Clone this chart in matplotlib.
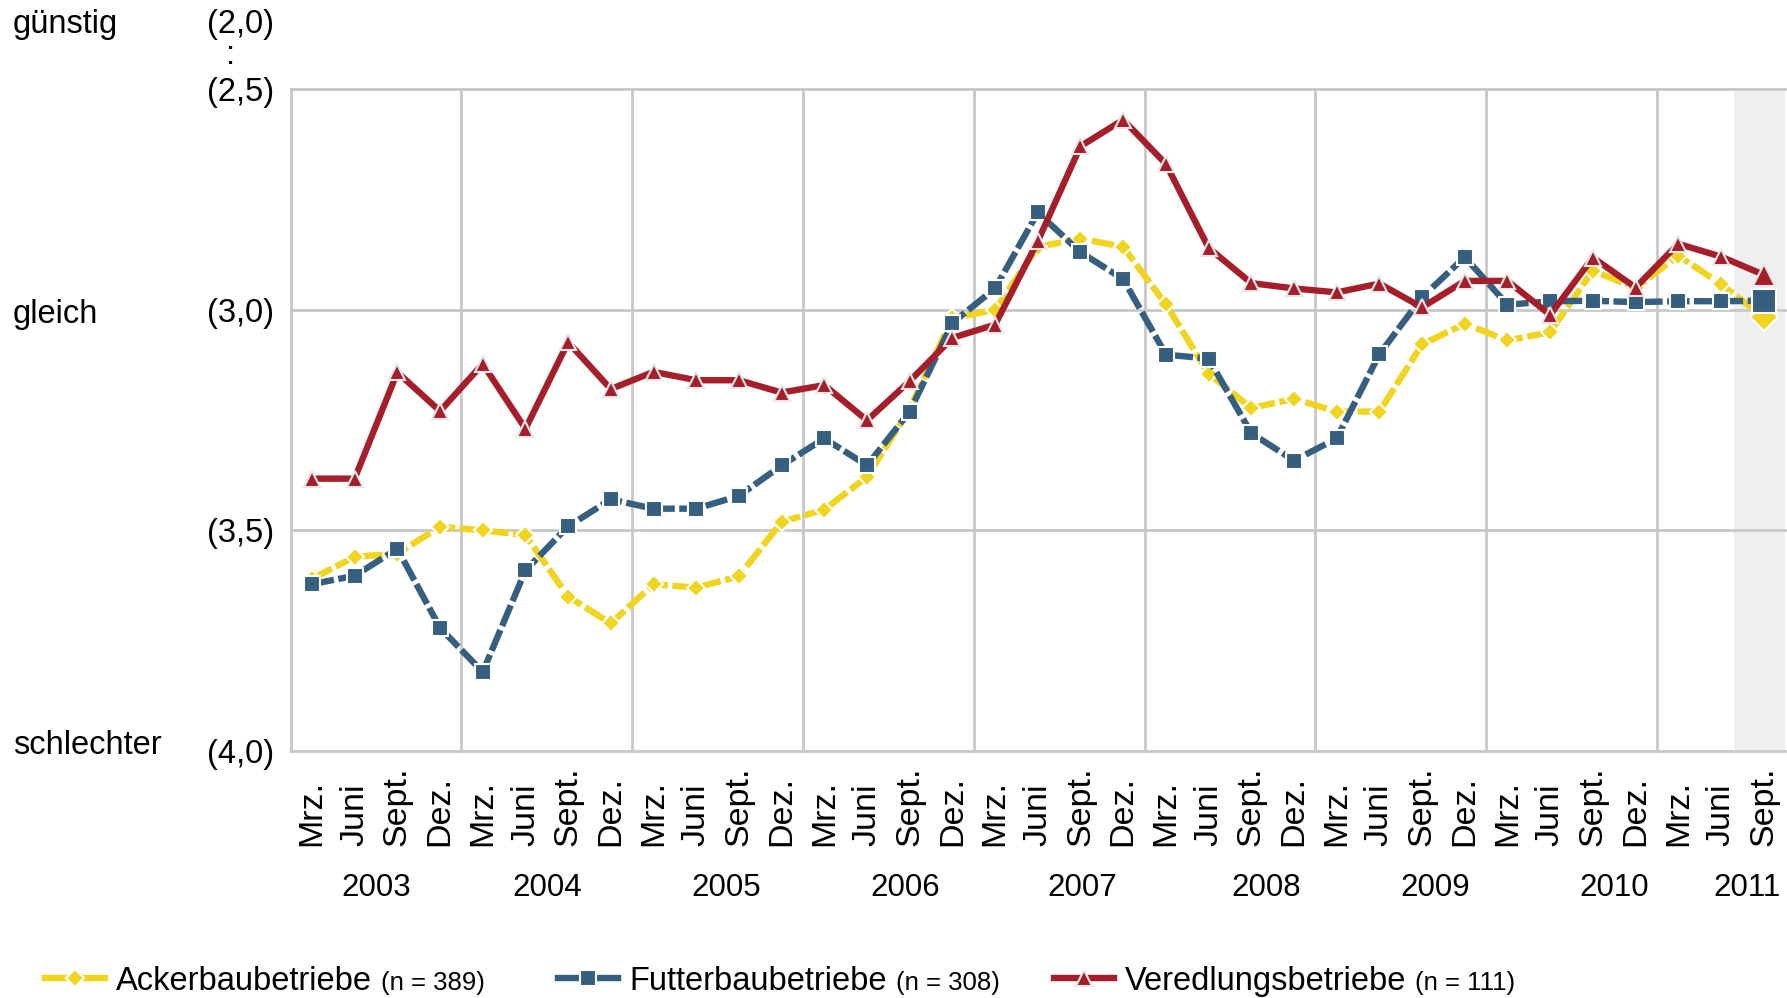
import matplotlib
matplotlib.use("Agg")
import matplotlib.pyplot as plt
from matplotlib.lines import Line2D
from matplotlib import transforms, font_manager

# quarterly survey values (index, inverted scale: 2 = better, 4 = worse)
months = ["Mrz.", "Juni", "Sept.", "Dez."] * 8 + ["Mrz.", "Juni", "Sept."]
years = ["2003", "2004", "2005", "2006", "2007", "2008", "2009", "2010", "2011"]

ackerbau = [3.61, 3.56, 3.553, 3.492, 3.50, 3.511, 3.65, 3.711, 3.622, 3.63,
            3.604, 3.481, 3.453, 3.379, 3.225, 3.02, 3.00, 2.858, 2.839, 2.858,
            2.988, 3.145, 3.223, 3.202, 3.231, 3.231, 3.079, 3.032, 3.070, 3.051,
            2.912, 2.951, 2.878, 2.942, 3.017]
futterbau = [3.622, 3.603, 3.542, 3.721, 3.821, 3.591, 3.491, 3.430, 3.451, 3.451,
             3.422, 3.353, 3.292, 3.353, 3.231, 3.030, 2.952, 2.780, 2.870, 2.931,
             3.102, 3.111, 3.280, 3.342, 3.292, 3.101, 2.972, 2.881, 2.989, 2.981,
             2.980, 2.983, 2.981, 2.981, 2.980]
veredlung = [3.383, 3.383, 3.142, 3.230, 3.123, 3.270, 3.074, 3.180, 3.141, 3.160,
             3.160, 3.188, 3.171, 3.251, 3.162, 3.064, 3.034, 2.845, 2.630, 2.570,
             2.670, 2.860, 2.940, 2.952, 2.961, 2.941, 2.995, 2.935, 2.935, 3.012,
             2.882, 2.950, 2.851, 2.880, 2.921]

series_names = ["Ackerbaubetriebe", "Futterbaubetriebe", "Veredlungsbetriebe"]
series_n = ["(n = 389)", "(n = 308)", "(n = 111)"]

ytick_vals = [2.5, 3.0, 3.5, 4.0]
ytick_labels = ["(2,5)", "(3,0)", "(3,5)", "(4,0)"]

# layout: where the year labels sit (in quarter index units)
YEAR_POS = [1.5, 5.5, 9.7, 13.9, 18.05, 22.35, 26.3, 30.5, 33.6]

YEL = "#F0D41E"
BLU = "#365E7E"
RED = "#A61E2A"
GRID = "#C8C8C8"


def pick_font(names):
    for n in names:
        try:
            font_manager.findfont(font_manager.FontProperties(family=n),
                                  fallback_to_default=False)
            return n
        except ValueError:
            pass
    return "DejaVu Sans"


FONT = pick_font(["Liberation Sans", "Arial", "DejaVu Sans"])
NARROW = pick_font(["Liberation Sans Narrow", "DejaVu Sans Condensed", FONT])
plt.rcParams["font.family"] = [FONT, "DejaVu Sans"]
FS = 23.5

W, H = 1787, 998
fig = plt.figure(figsize=(W / 100, H / 100), dpi=100)
ax = fig.add_axes([290.6 / W, 1 - 751 / H, (1785 - 290.6) / W, (751 - 88.9) / H])

x = list(range(len(months)))
ax.set_xlim(-0.5, len(months) - 0.5)
ax.set_ylim(4.0, 2.5)
for s in ax.spines.values():
    s.set_visible(False)

ax.axvspan(len(months) - 1.7, len(months) - 0.5, color="#EFEFEF", lw=0, zorder=0)
for yv in ytick_vals:
    ax.axhline(yv, color=GRID, lw=2, zorder=1, clip_on=False)
for xv in [-0.5] + [i * 4 + 3.5 for i in range(8)]:
    ax.axvline(xv, color=GRID, lw=2, zorder=1, clip_on=False)

ax.set_xticks([])
ax.set_yticks(ytick_vals)
ax.set_yticklabels(ytick_labels, fontsize=FS)
ax.tick_params(axis="y", length=0, pad=12)

styles = [
    (ackerbau, YEL, "D", 9.5, 14, (0, (3.5, 0.7)), "white"),
    (futterbau, BLU, "s", 11, 17, (0, (3.5, 0.7)), "white"),
    (veredlung, RED, "^", 12, 16, "-", "#E8E8E8"),
]
for z, (vals, col, mk, ms, ms_last, ls, mec) in enumerate(styles):
    ax.plot(x, vals, color=col, lw=4.6, ls=ls, marker=mk, ms=ms, mfc=col,
            mec=mec, mew=1.5, zorder=3 + z, clip_on=False)
    ax.plot(x[-1:], vals[-1:], ls="none", marker=mk, ms=ms_last, mfc=col,
            mec=mec, mew=1.5, zorder=3 + z, clip_on=False)

# month and year labels below the axis
tr = transforms.blended_transform_factory(ax.transData, fig.transFigure)
for i, m in enumerate(months):
    ax.text(i, 1 - 846 / H, m, transform=tr, rotation=90, ha="center",
            va="bottom", fontsize=24.5, family=[NARROW, "DejaVu Sans"])
for xp, yr in zip(YEAR_POS, years):
    ax.text(xp, 1 - 888 / H, yr, transform=tr, ha="center", va="center",
            fontsize=22.5, family=[NARROW, "DejaVu Sans"])

# left side descriptions
fig.text(13 / W, 1 - 24 / H, "günstig", fontsize=FS, va="center")
fig.text(274 / W, 1 - 24 / H, "(2,0)", fontsize=FS, va="center", ha="right")
fig.text(231 / W, 1 - 55 / H, ":", fontsize=FS, va="center", ha="center")
fig.text(13 / W, 1 - 315 / H, "gleich", fontsize=FS, va="center")
fig.text(13 / W, 1 - 746 / H, "schlechter", fontsize=FS, va="center")

# hand-made legend
handle_x = [45, 558, 1054]
legend_y = 1 - 978 / H
renderer = fig.canvas.get_renderer()
for hx, name, n, (vals, col, mk, ms, ms_last, ls, mec) in zip(handle_x, series_names, series_n, styles):
    fig.add_artist(Line2D([hx / W, (hx + 30) / W, (hx + 60) / W], [legend_y] * 3,
                          transform=fig.transFigure, color=col, lw=4.6, marker=mk,
                          ms=ms, mfc=col, mec=mec, mew=1.5, markevery=[1]))
    t = fig.text((hx + 71) / W, 1 - 990 / H, name, fontsize=FS, va="baseline")
    bb = t.get_window_extent(renderer)
    fig.text((bb.x1 + 9) / W, 1 - 990 / H, n, fontsize=18.5, va="baseline")

fig.savefig("out.png", dpi=100)
